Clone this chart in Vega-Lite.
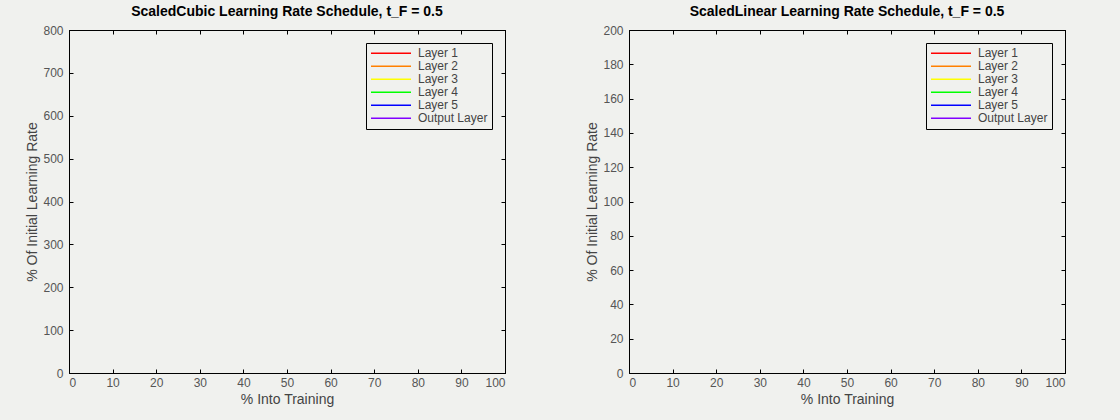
{
  "$schema": "https://vega.github.io/schema/vega-lite/v6.json",
  "background": "#f0f1ee",
  "padding": {"left": 25, "top": 4, "right": 54, "bottom": 15},
  "config": {
    "font": "Liberation Sans",
    "view": {"stroke": "black", "strokeWidth": 1},
    "axis": {
      "grid": false,
      "domainColor": "black",
      "tickColor": "black",
      "labelColor": "#555555",
      "labelFont": "Liberation Sans",
      "labelFontSize": 12,
      "titleFont": "Liberation Sans",
      "titleFontSize": 14,
      "titleFontWeight": "normal",
      "titleColor": "#444444",
      "tickSize": -4
    },
    "title": {"font": "Liberation Sans", "fontSize": 14, "fontWeight": "bold", "color": "black", "offset": 5},
    "legend": {
      "orient": "top-right",
      "offset": 13,
      "strokeColor": "black",
      "fillColor": "#f0f1ee",
      "padding": 4,
      "symbolType": "stroke",
      "symbolSize": 1600,
      "clipHeight": 12.5,
      "rowPadding": 0,
      "symbolStrokeWidth": 1.5,
      "symbolOpacity": 1,
      "labelFont": "Liberation Sans",
      "labelFontSize": 12,
      "labelColor": "#444444",
      "labelOffset": 6,
      "title": null
    }
  },
  "data": {
    "values": [
      {"series": "Layer 1", "pct": null, "rate": null},
      {"series": "Layer 2", "pct": null, "rate": null},
      {"series": "Layer 3", "pct": null, "rate": null},
      {"series": "Layer 4", "pct": null, "rate": null},
      {"series": "Layer 5", "pct": null, "rate": null},
      {"series": "Output Layer", "pct": null, "rate": null}
    ]
  },
  "spacing": 79,
  "hconcat": [
    {
      "width": 436,
      "height": 343,
      "title": "ScaledCubic Learning Rate Schedule, t_F = 0.5",
      "layer": [
        {
          "mark": {"type": "line", "strokeWidth": 1},
          "encoding": {
            "x": {"field": "pct", "type": "quantitative", "scale": {"domain": [0, 100], "nice": false}, "axis": {"title": "% Into Training", "values": [0,10,20,30,40,50,60,70,80,90,100], "labelPadding": 8, "titlePadding": 4}},
            "y": {"field": "rate", "type": "quantitative", "scale": {"domain": [0, 800], "nice": false}, "axis": {"title": "% Of Initial Learning Rate", "values": [0,100,200,300,400,500,600,700,800], "labelPadding": 10, "titlePadding": 3}},
            "color": {"field": "series", "type": "nominal", "scale": {"domain": ["Layer 1","Layer 2","Layer 3","Layer 4","Layer 5","Output Layer"], "range": ["#ff0000","#ff8000","#ffff00","#00ff00","#0000ff","#8000ff"]}}
          }
        },
        {
          "mark": {"type": "line", "strokeWidth": 1},
          "encoding": {
            "x": {"field": "pct", "type": "quantitative", "axis": {"orient": "top", "labels": false, "title": null, "values": [0,10,20,30,40,50,60,70,80,90,100]}},
            "y": {"field": "rate", "type": "quantitative", "axis": {"orient": "right", "labels": false, "title": null, "values": [0,100,200,300,400,500,600,700,800]}}
          }
        }
      ],
      "resolve": {"axis": {"x": "independent", "y": "independent"}}
    },
    {
      "width": 436,
      "height": 343,
      "title": "ScaledLinear Learning Rate Schedule, t_F = 0.5",
      "layer": [
        {
          "mark": {"type": "line", "strokeWidth": 1},
          "encoding": {
            "x": {"field": "pct", "type": "quantitative", "scale": {"domain": [0, 100], "nice": false}, "axis": {"title": "% Into Training", "values": [0,10,20,30,40,50,60,70,80,90,100], "labelPadding": 8, "titlePadding": 4}},
            "y": {"field": "rate", "type": "quantitative", "scale": {"domain": [0, 200], "nice": false}, "axis": {"title": "% Of Initial Learning Rate", "values": [0,20,40,60,80,100,120,140,160,180,200], "labelPadding": 10, "titlePadding": 3}},
            "color": {"field": "series", "type": "nominal", "scale": {"domain": ["Layer 1","Layer 2","Layer 3","Layer 4","Layer 5","Output Layer"], "range": ["#ff0000","#ff8000","#ffff00","#00ff00","#0000ff","#8000ff"]}}
          }
        },
        {
          "mark": {"type": "line", "strokeWidth": 1},
          "encoding": {
            "x": {"field": "pct", "type": "quantitative", "axis": {"orient": "top", "labels": false, "title": null, "values": [0,10,20,30,40,50,60,70,80,90,100]}},
            "y": {"field": "rate", "type": "quantitative", "axis": {"orient": "right", "labels": false, "title": null, "values": [0,20,40,60,80,100,120,140,160,180,200]}}
          }
        }
      ],
      "resolve": {"axis": {"x": "independent", "y": "independent"}}
    }
  ],
  "resolve": {"scale": {"color": "independent"}}
}
